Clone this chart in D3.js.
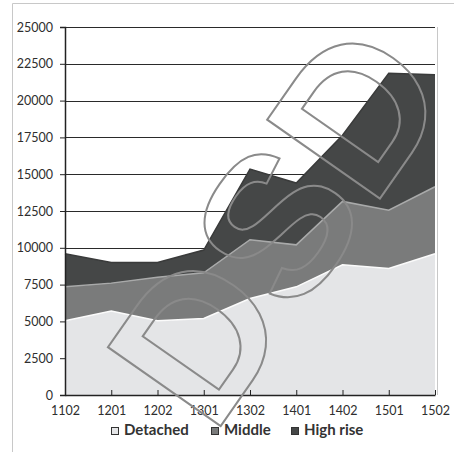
<!DOCTYPE html>
<html><head><meta charset="utf-8">
<script src="https://cdn.jsdelivr.net/npm/d3@7"></script>
<style>body{margin:0;background:#fff}svg{display:block}</style>
</head><body>
<script>
const categories = ["1102","1201","1202","1301","1302","1401","1402","1501","1502"];
const seriesNames = ["Detached","Middle","High rise"];
const detached = [5050,5700,5050,5200,6550,7350,8850,8600,9600];
const middle   = [2300,1900,2950,3100,4000,2850,4300,3950,4550];
const highRise = [2250,1400,1000,1550,4800,4200,4500,9300,7600];
const yTicks = [0,2500,5000,7500,10000,12500,15000,17500,20000,22500,25000];
const colors = ["#e4e5e7","#7a7b7b","#454747"];
const edgeColors = ["#fbfbfb","#a9aaaa","#3a3b3b"];

const W=454,H=452;
const svg=d3.select("body").append("svg").attr("width",W).attr("height",H);
const pL=65,pR=435,pT=27,pB=395;
const x=d3.scalePoint().domain(categories).range([pL,pR]);
const y=d3.scaleLinear().domain([0,25000]).range([pB,pT]);

// outer frame
svg.append("path").attr("d",`M12.5,${H} V3.5 H${W}`).attr("fill","none").attr("stroke","#c8c8c8");
// plot right border
svg.append("line").attr("x1",437.5).attr("x2",437.5).attr("y1",pT).attr("y2",pB).attr("stroke","#c8c8c8");

const rows=categories.map((c,i)=>({cat:c,"Detached":detached[i],"Middle":middle[i],"High rise":highRise[i]}));
const stack=d3.stack().keys(seriesNames)(rows);
const area=d3.area().x(d=>x(d.data.cat)).y0(d=>y(d[0])).y1(d=>y(d[1]));
const line=d3.line().x(d=>x(d.data.cat)).y(d=>y(d[1]));

// gridlines
svg.append("g").selectAll("line").data(yTicks.filter(t=>t>0)).join("line")
  .attr("x1",pL).attr("x2",pR).attr("y1",d=>Math.round(y(d))+0.5).attr("y2",d=>Math.round(y(d))+0.5)
  .attr("stroke","#2a2a2a").attr("stroke-width",1);

svg.selectAll("path.b").data(stack).join("path").attr("class","b")
  .attr("d",area).attr("fill",(d,i)=>colors[i]);
svg.selectAll("path.e").data(stack).join("path").attr("class","e")
  .attr("d",line).attr("fill","none").attr("stroke",(d,i)=>edgeColors[i]).attr("stroke-width",1.5);

// axes
const yAxis=d3.axisLeft(y).tickValues(yTicks).tickSize(5).tickFormat(d3.format("d"));
const gy=svg.append("g").attr("transform",`translate(${pL},0)`).call(yAxis);
gy.select(".domain").attr("stroke","#222").attr("stroke-width",1.5);
gy.selectAll(".tick line").attr("stroke","#222");
gy.selectAll("text").attr("font-family","Lato, sans-serif").attr("font-size",12.5).attr("fill","#2e2e2e").attr("x",-12);

const xAxis=d3.axisBottom(x).tickSize(5).tickSizeOuter(0);
const gx=svg.append("g").attr("transform",`translate(0,${pB})`).call(xAxis);
gx.select(".domain").attr("stroke","#222").attr("stroke-width",1.5);
gx.selectAll(".tick line").attr("stroke","#222").attr("y1",-5).attr("y2",0);
gx.selectAll("text").attr("font-family","Lato, sans-serif").attr("font-size",12.5).attr("fill","#2e2e2e").attr("y",11);

// legend
const legX=[111,211,291];
const lg=svg.append("g");
seriesNames.forEach((n,i)=>{
  lg.append("rect").attr("x",legX[i]+0.5).attr("y",427.5).attr("width",7).attr("height",7)
    .attr("fill",colors[i]).attr("stroke","#333");
  lg.append("text").attr("x",legX[i]+13).attr("y",435).text(n)
    .attr("font-family","Lato, sans-serif").attr("font-weight","bold").attr("font-size",15).attr("fill","#333");
});

// watermark
svg.append("text").attr("transform","translate(213,437) rotate(-55)")
  .attr("font-family","Liberation Sans, sans-serif").attr("font-weight","bold").attr("font-size",200)
  .attr("fill","none").attr("stroke","#8a8a8a").attr("stroke-width",2).text("DSD");
</script>
</body></html>
